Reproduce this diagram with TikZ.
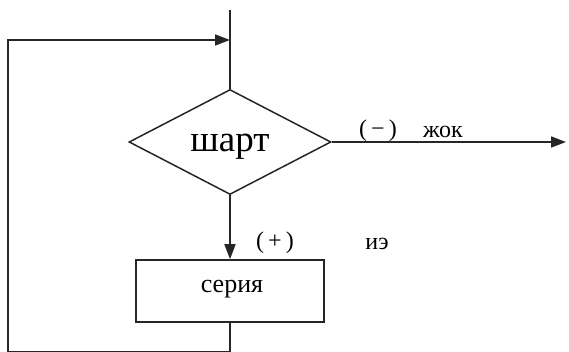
\documentclass[tikz,border=0pt]{standalone}
\usepackage{fontspec}
\setmainfont{Liberation Serif}
\usetikzlibrary{shapes.geometric,arrows.meta}
\begin{document}
\begin{tikzpicture}[x=1pt,y=-1pt,
  line/.style={draw=black!85,line width=1.6pt},
  arr/.style={line,-{Triangle[length=15pt,width=11pt]}},
  lbl/.style={inner sep=0pt,font=\fontsize{24}{24}\selectfont}]
\useasboundingbox (0,0) rectangle (569,352);
\node[draw=black!85,line width=1.5pt,diamond,aspect=1.92,minimum width=202pt,minimum height=105pt,inner sep=0pt] (cond) at (230,142) {};
\node[inner sep=0pt,font=\fontsize{37}{37}\selectfont] (condt) at (230,147) {шарт};
\node[draw=black!85,line width=1.5pt,rectangle,minimum width=188pt,minimum height=62pt,inner sep=0pt] (ser) at (230,291) {};
\node[inner sep=0pt,font=\fontsize{26}{26}\selectfont] (sert) at (232,289) {серия};
\coordinate (top) at (230,10);
\coordinate (join) at (230,40);
\coordinate (lt) at (8,40);
\coordinate (lb) at (8,352);
\coordinate (bb) at (230,352);
\coordinate (out) at (566,142);
\draw[line] (top) -- (cond.north);
\draw[arr] (lb) -- (lt) -- (join);
\draw[line] (ser.south) -- (bb) -- (lb);
\draw[arr] (cond.east) -- (out);
\draw[arr] (cond.south) -- (ser.north);
\node[lbl] (minus) at (378,131) {(\,−\,)};
\node[lbl] (no) at (443,132) {жок};
\node[lbl] (plus) at (275,243) {(\,+\,)};
\node[lbl] (yes) at (377,244) {иэ};
\end{tikzpicture}
\end{document}
